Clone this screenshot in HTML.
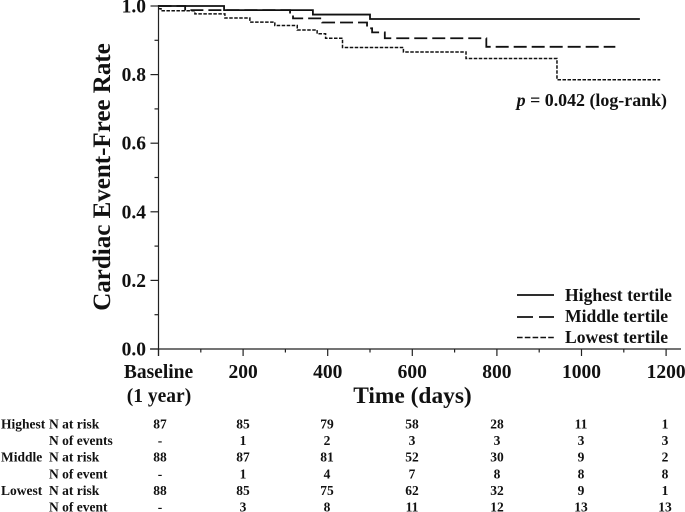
<!DOCTYPE html>
<html>
<head>
<meta charset="utf-8">
<style>
html,body{margin:0;padding:0;background:#fff;}
svg{display:block;}
text{font-family:"Liberation Serif",serif;font-weight:bold;fill:#111;}
</style>
</head>
<body>
<svg id="chart" width="685" height="512" viewBox="0 0 685 512" xmlns="http://www.w3.org/2000/svg">
  <text transform="translate(110,177) rotate(-90)" text-anchor="middle" font-size="25">Cardiac Event-Free Rate</text>
  <text x="412.5" y="403" text-anchor="middle" font-size="23.4">Time (days)</text>
  <text x="159" y="402" text-anchor="middle" font-size="19.5">(1 year)</text>
  <text x="667" y="106" text-anchor="end" font-size="17.9"><tspan font-style="italic">p</tspan> = 0.042 (log-rank)</text>
  <g>
    <line x1="517" y1="295" x2="554" y2="295" stroke="#111" stroke-width="1.8"/>
    <line x1="517" y1="317" x2="554" y2="317" stroke="#111" stroke-width="1.8" stroke-dasharray="16 6"/>
    <line x1="517" y1="337.5" x2="554" y2="337.5" stroke="#111" stroke-width="1.6" stroke-dasharray="5.6 2.2"/>
    <text x="565" y="301" font-size="17.6">Highest tertile</text>
    <text x="565" y="322" font-size="17.6">Middle tertile</text>
    <text x="565" y="343" font-size="17.6">Lowest tertile</text>
  </g>
</svg>
<script>
var yTicks = ["0.0", "0.2", "0.4", "0.6", "0.8", "1.0"];
var xTicks = ["Baseline", "200", "400", "600", "800", "1000", "1200"];
var highestDays = [0, 155, 365, 500, 1138];
var highestRate = [1.0, 0.988, 0.975, 0.962, 0.962];
var middleDays = [0, 63, 311, 318, 387, 493, 505, 535, 775, 1080];
var middleRate = [1.0, 0.988, 0.976, 0.964, 0.952, 0.935, 0.923, 0.906, 0.881, 0.881];
var lowestDays = [0, 6, 86, 157, 216, 275, 328, 375, 395, 435, 579, 727, 942, 1186];
var lowestRate = [0.992, 0.986, 0.977, 0.965, 0.953, 0.943, 0.93, 0.919, 0.906, 0.879, 0.866, 0.847, 0.785, 0.785];
var rowGroups = ["Highest", "", "Middle", "", "Lowest", ""];
var rowLabels = ["N at risk", "N of events", "N at risk", "N of event", "N at risk", "N of event"];
var highestAtRisk = ["87", "85", "79", "58", "28", "11", "1"];
var highestEvents = ["-", "1", "2", "3", "3", "3", "3"];
var middleAtRisk = ["88", "87", "81", "52", "30", "9", "2"];
var middleEvents = ["-", "1", "4", "7", "8", "8", "8"];
var lowestAtRisk = ["88", "85", "75", "62", "32", "9", "1"];
var lowestEvents = ["-", "3", "8", "11", "12", "13", "13"];

var NS = "http://www.w3.org/2000/svg";
var svg = document.getElementById("chart");
function X(d) { return 158.5 + d * 0.423; }
function Y(v) { return 349 - v * 343; }
function mk(tag, attrs, parent) {
  var el = document.createElementNS(NS, tag);
  for (var k in attrs) el.setAttribute(k, attrs[k]);
  (parent || svg).appendChild(el);
  return el;
}
var axisGroup = mk("g", {stroke: "#222", "stroke-width": 1.2});


var yLine = mk("line", {x1: X(0), x2: X(0), y1: Y(1) - 1, y2: Y(0) + 7}, axisGroup);


var xLine = mk("line", {x1: 150, x2: 681, y1: Y(0), y2: Y(0)}, axisGroup);


yTicks.forEach(function (t) {
  var v = parseFloat(t);
  var tick = mk("line", {x1: X(0) - 8, x2: X(0), y1: Y(v), y2: Y(v)}, axisGroup);
  
  
  if (v < 1) {
    var minor = mk("line", {x1: X(0) - 4, x2: X(0), y1: Y(v + 0.1), y2: Y(v + 0.1)}, axisGroup);
    
    
  }
  var label = mk("text", {x: 146, y: Y(v) + 6.5, "text-anchor": "end", "font-size": 19.5});
  label.textContent = t;
  
  
});
xTicks.forEach(function (t, i) {
  var d = i * 200;
  var tick = mk("line", {x1: X(d), x2: X(d), y1: Y(0), y2: Y(0) + 7}, axisGroup);
  
  
  if (i < xTicks.length - 1) {
    var minor = mk("line", {x1: X(d + 100), x2: X(d + 100), y1: Y(0), y2: Y(0) + 3.5}, axisGroup);
    
    
  }
  var label = mk("text", {x: X(d), y: 378, "text-anchor": "middle", "font-size": 19.5});
  label.textContent = t;
  
  
});
function stepPath(days, rates) {
  var p = "M" + X(days[0]) + " " + Y(rates[0]);
  for (var i = 1; i < days.length; i++) {
    p += "H" + X(days[i]) + "V" + Y(rates[i]);
  }
  return p;
}
var highestCurve = mk("path", {d: stepPath(highestDays, highestRate), fill: "none", stroke: "#111", "stroke-width": 1.8});


var middleCurve = mk("path", {d: stepPath(middleDays, middleRate), fill: "none", stroke: "#111", "stroke-width": 1.8, "stroke-dasharray": "13 5"});


var lowestCurve = mk("path", {d: stepPath(lowestDays, lowestRate), fill: "none", stroke: "#111", "stroke-width": 1.5, "stroke-dasharray": "3.5 1.5"});



var rows = [highestAtRisk, highestEvents, middleAtRisk, middleEvents, lowestAtRisk, lowestEvents];
var colX = [160, 243, 327, 412, 497, 581, 665];
rows.forEach(function (row, r) {
  var y = 428.5 + r * 16.6;
  if (rowGroups[r]) {
    var g = mk("text", {x: 1, y: y, "font-size": 13.5});
    g.textContent = rowGroups[r];
    
    
  }
  var l = mk("text", {x: 49, y: y, "font-size": 13.5});
  l.textContent = rowLabels[r];
  
  
  row.forEach(function (val, c) {
    var t = mk("text", {x: colX[c], y: y, "text-anchor": "middle", "font-size": 13.5});
    t.textContent = val;
    
    
  });
});
</script>
</body>
</html>
